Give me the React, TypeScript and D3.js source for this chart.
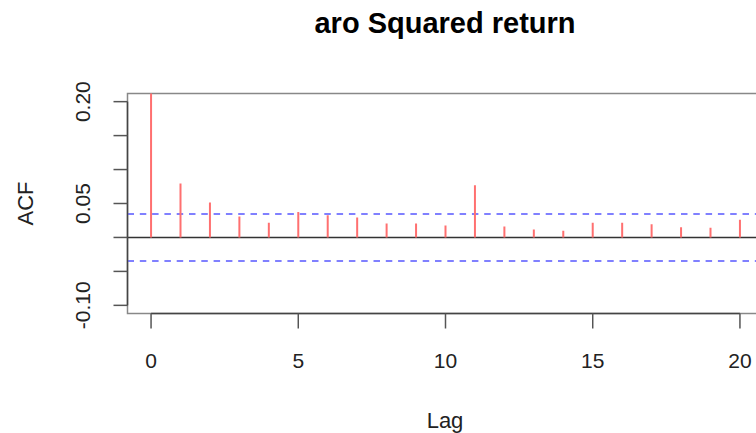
import React from "react";
import * as d3 from "d3";

const lags = [0, 1, 2, 3, 4, 5, 6, 7, 8, 9, 10, 11, 12, 13, 14, 15, 16, 17, 18, 19, 20];
const acfValues = [
  1.0, 0.0794, 0.0515, 0.0309, 0.0216, 0.0373, 0.0328, 0.0294, 0.0206, 0.0206, 0.0176,
  0.077, 0.0162, 0.0118, 0.0098, 0.0216, 0.0216, 0.0196, 0.0152, 0.0142, 0.026,
];
const confLimit = 0.0345;
const yTicks = [-0.1, -0.05, 0, 0.05, 0.1, 0.15, 0.2];
const yTickLabels = ["-0.10", "", "", "0.05", "", "", "0.20"];
const xTicks = [0, 5, 10, 15, 20];
const title = "aro Squared return";

const font = "'Liberation Sans', Arial, Helvetica, sans-serif";

const App = () => {
  const width = 756;
  const height = 433;
  const left = 127.5;
  const right = 763.5;
  const top = 93.5;
  const bottom = 313.5;

  const x = d3.scaleLinear().domain([-0.8, 20.8]).range([left, right]);
  const y = d3.scaleLinear().domain([-0.112, 0.212]).range([bottom, top]);

  return (
    <svg
      width={width}
      height={height}
      style={{ position: "absolute", left: 0, top: 0, background: "white" }}
    >
      <defs>
        <clipPath id="plot">
          <rect x={left} y={top} width={right - left} height={bottom - top} />
        </clipPath>
      </defs>

      <text x={445} y={33} textAnchor="middle" fontFamily={font} fontWeight="bold" fontSize="29">
        {title}
      </text>

      {/* box */}
      <rect x={left} y={top} width={right - left} height={bottom - top} fill="none" stroke="#888" strokeWidth="1.5" />

      <g clipPath="url(#plot)">
        <line x1={left} x2={right} y1={y(0)} y2={y(0)} stroke="#333" strokeWidth="1.5" />
        {[confLimit, -confLimit].map((c, i) => (
          <line
            key={i}
            x1={left}
            x2={right}
            y1={y(c)}
            y2={y(c)}
            stroke="#8080ff"
            strokeWidth="2"
            strokeDasharray="6.5,5.8"
          />
        ))}
        {lags.map((lag, i) => (
          <line
            key={lag}
            x1={x(lag)}
            x2={x(lag)}
            y1={y(0)}
            y2={y(acfValues[i])}
            stroke="#ff7070"
            strokeWidth="2"
          />
        ))}
      </g>

      {/* y axis */}
      <line x1={left} x2={left} y1={y(yTicks[0])} y2={y(yTicks[yTicks.length - 1])} stroke="#444" strokeWidth="1.5" />
      {yTicks.map((t, i) => (
        <g key={t}>
          <line x1={left - 14} x2={left} y1={y(t)} y2={y(t)} stroke="#555" strokeWidth="1.5" />
          {yTickLabels[i] && (
            <text
              transform={`translate(90 ${y(t)}) rotate(-90)`}
              textAnchor="middle"
              fontFamily={font}
              fontSize="21"
              fill="#222"
            >
              {yTickLabels[i]}
            </text>
          )}
        </g>
      ))}

      {/* x axis */}
      <line x1={x(xTicks[0])} x2={x(xTicks[xTicks.length - 1])} y1={bottom} y2={bottom} stroke="#444" strokeWidth="1.5" />
      {xTicks.map((t) => (
        <g key={t}>
          <line x1={x(t)} x2={x(t)} y1={bottom} y2={bottom + 15} stroke="#555" strokeWidth="1.5" />
          <text x={x(t)} y={368} textAnchor="middle" fontFamily={font} fontSize="21" fill="#222">
            {t}
          </text>
        </g>
      ))}

      <text x={445} y={428} textAnchor="middle" fontFamily={font} fontSize="22" fill="#222">
        Lag
      </text>
      <text
        transform={`translate(33 ${(top + bottom) / 2}) rotate(-90)`}
        textAnchor="middle"
        fontFamily={font}
        fontSize="22"
        fill="#222"
      >
        ACF
      </text>
    </svg>
  );
};

export default App;
